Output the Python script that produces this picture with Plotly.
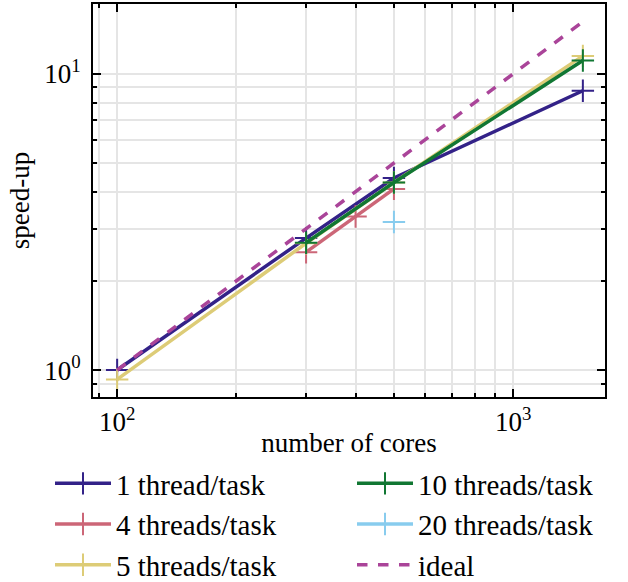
import plotly.graph_objects as go

# ---- data ----
cores_1 = [100, 300, 500, 1500]
speedup_1 = [1.0, 2.79, 4.45, 8.77]

cores_4 = [300, 400, 500]
speedup_4 = [2.50, 3.30, 4.09]

cores_5 = [100, 300, 500, 1500]
speedup_5 = [0.93, 2.68, 4.30, 11.5]

cores_10 = [300, 500, 1500]
speedup_10 = [2.69, 4.30, 11.1]

cores_20 = [500]
speedup_20 = [3.16]

cores_ideal = [100, 300, 500, 1500]
speedup_ideal = [1, 3, 5, 15]

x_tickvals = [100, 1000]
x_ticktext = ["10<sup>2</sup>", "10<sup>3</sup>"]
x_minor = [90, 200, 300, 400, 500, 600, 700, 800, 900]
y_tickvals = [1, 10]
y_ticktext = ["10<sup>0</sup>", "10<sup>1</sup>"]
y_minor = [0.9, 2, 3, 4, 5, 6, 7, 8, 9]

FONT = "Liberation Serif"
GRID = "#e5e5e5"

series = [
    ("1 thread/task", cores_1, speedup_1, "#332288", "legend"),
    ("4 threads/task", cores_4, speedup_4, "#CC6677", "legend"),
    ("5 threads/task", cores_5, speedup_5, "#DDCC77", "legend"),
    ("10 threads/task", cores_10, speedup_10, "#117733", "legend2"),
    ("20 threads/task", cores_20, speedup_20, "#88CCEE", "legend2"),
]

fig = go.Figure()
for name, xs, ys, col, lg in series:
    fig.add_trace(go.Scatter(
        x=xs, y=ys, name=name, mode="lines+markers",
        line=dict(color=col, width=3.5),
        marker=dict(symbol="cross-thin", size=16, line=dict(color=col, width=2)),
        legend=lg,
    ))
fig.add_trace(go.Scatter(
    x=cores_ideal, y=speedup_ideal, name="ideal", mode="lines",
    line=dict(color="#AA4499", width=3.5, dash="dash"), legend="legend2",
))

axis_common = dict(
    type="log", showline=True, linecolor="black", linewidth=2, mirror="ticks",
    ticks="inside", ticklen=8, tickwidth=1.5, tickcolor="black",
    showgrid=True, gridcolor=GRID, gridwidth=1.5, zeroline=False,
    tickfont=dict(family=FONT, size=27, color="black"),
    tickmode="array", automargin=False,
)

fig.update_xaxes(
    **axis_common, range=[1.939, 3.232], ticklabelstandoff=0,
    tickvals=x_tickvals, ticktext=x_ticktext,
    minor=dict(tickmode="array", tickvals=x_minor, ticks="inside", ticklen=4,
               tickcolor="black", showgrid=True, gridcolor=GRID, gridwidth=1.5),
    title=dict(text="number of cores", font=dict(family=FONT, size=27, color="black"), standoff=10),
)
fig.update_yaxes(
    **axis_common, range=[-0.091, 1.236], ticklabelstandoff=5,
    tickvals=y_tickvals, ticktext=y_ticktext,
    minor=dict(tickmode="array", tickvals=y_minor, ticks="inside", ticklen=4,
               tickcolor="black", showgrid=True, gridcolor=GRID, gridwidth=1.5),
    title=dict(text="speed-up", font=dict(family=FONT, size=27, color="black"), standoff=7),
)

# horizontal legends whose entries are too wide to share a row -> one entry per row
legend_common = dict(
    orientation="h", xref="container", yref="container",
    xanchor="left", yanchor="top", itemwidth=56,
    entrywidth=220, entrywidthmode="pixels",
    font=dict(family=FONT, size=29, color="black"),
    bgcolor="rgba(0,0,0,0)",
)

fig.update_layout(
    width=628, height=582,
    margin=dict(l=93, r=23, t=4, b=185, autoexpand=False),
    plot_bgcolor="white", paper_bgcolor="white",
    font=dict(family=FONT, size=27, color="black"),
    legend=dict(**legend_common, x=50 / 628, y=1 - 458 / 582),
    legend2=dict(**legend_common, x=352 / 628, y=1 - 458 / 582),
    showlegend=True,
)

fig.write_html("out.html")
